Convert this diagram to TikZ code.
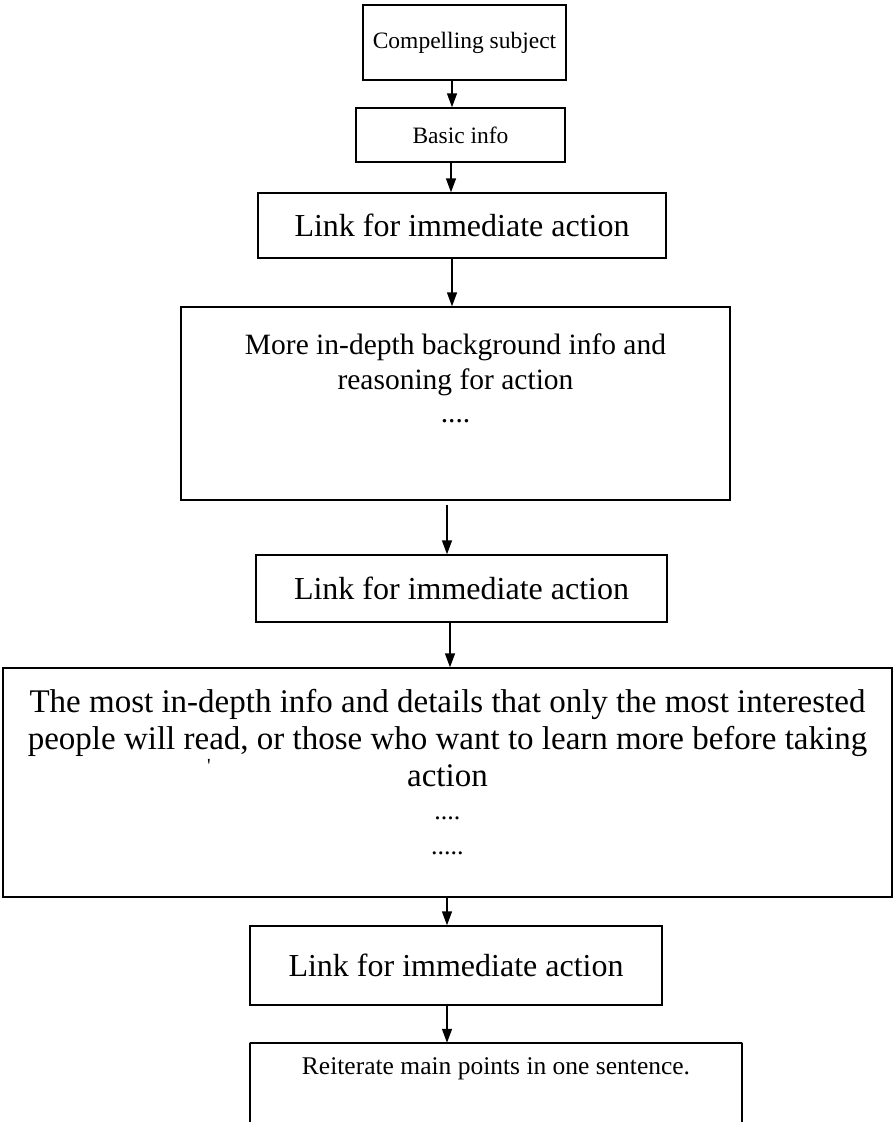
\documentclass[tikz,border=0pt]{standalone}
\usepackage{fontspec}
\setmainfont{Liberation Serif}
\usetikzlibrary{arrows.meta}
\tikzset{
  box/.style={draw, line width=1.4pt, inner sep=0pt, align=center},
  arr/.style={line width=1.4pt, -{Triangle[width=10pt,length=14pt]}},
  fA/.style={font=\fontsize{23.5}{26}\selectfont},
  fB/.style={font=\fontsize{32}{36}\selectfont},
}
\begin{document}
\begin{tikzpicture}[x=1pt,y=1pt]
\useasboundingbox (0,0) rectangle (894,-1122);
\fill[white] (0,0) rectangle (894,-1122);
% boxes
\node[box,fA,minimum width=203pt,minimum height=75pt] (b1) at (464.5,-42.5) {Compelling subject};
\node[box,fA,minimum width=209pt,minimum height=54pt] (b2) at (460.5,-135) {Basic info};
\node[box,fB,minimum width=408pt,minimum height=65pt] (b3) at (462,-225.5) {Link for immediate action};
\node[box,minimum width=549pt,minimum height=193pt] (b4) at (455.5,-403.5) {};
\node[font=\fontsize{29.5}{35}\selectfont,align=center,anchor=north] (t4) at (455.5,-330) {More in-depth background info and\\reasoning for action\\[-2pt]....};
\node[box,fB,minimum width=411pt,minimum height=67pt] (b5) at (461.5,-588.5) {Link for immediate action};
\node[box,minimum width=889pt,minimum height=229pt] (b6) at (447.5,-782.5) {};
\node[font=\fontsize{33}{37}\selectfont,align=center,anchor=north] (t6) at (447.5,-686) {The most in-depth info and details that only the most interested\\people will read, or those who want to learn more before taking\\action\\[-4pt]{\fontsize{26}{36}\selectfont ....}\\[-2pt]{\fontsize{26}{36}\selectfont .....}};
\node[font=\fontsize{20}{20}\selectfont] (tick) at (209,-766) {\textquotesingle};
\node[box,fB,minimum width=412pt,minimum height=79pt] (b7) at (456,-965.5) {Link for immediate action};
\coordinate (b8l) at (250,-1122);
\coordinate (b8r) at (742,-1122);
\node[inner sep=0pt,minimum width=492pt,minimum height=0pt] (b8) at (496,-1043) {};
\draw[line width=1.4pt] (b8l) |- (b8.west) -- (b8.east) -| (b8r);
\node[font=\fontsize{25.5}{30}\selectfont] (t8) at (496,-1069) {Reiterate main points in one sentence.};
% arrow columns
\coordinate (a1) at (452,0);
\coordinate (a2) at (451,0);
\coordinate (a3) at (452,0);
\coordinate (a4) at (447,0);
\coordinate (a5) at (450,0);
\coordinate (a6) at (447,0);
\coordinate (a7) at (447,0);
\draw[arr] (b1.south -| a1) -- (b2.north -| a1);
\draw[arr] (b2.south -| a2) -- (b3.north -| a2);
\draw[arr] (b3.south -| a3) -- (b4.north -| a3);
\draw[arr] ([yshift=-4pt]b4.south -| a4) -- (b5.north -| a4);
\draw[arr] (b5.south -| a5) -- (b6.north -| a5);
\draw[arr] (b6.south -| a6) -- (b7.north -| a6);
\draw[arr] (b7.south -| a7) -- (b8.north -| a7);
\end{tikzpicture}
\end{document}
